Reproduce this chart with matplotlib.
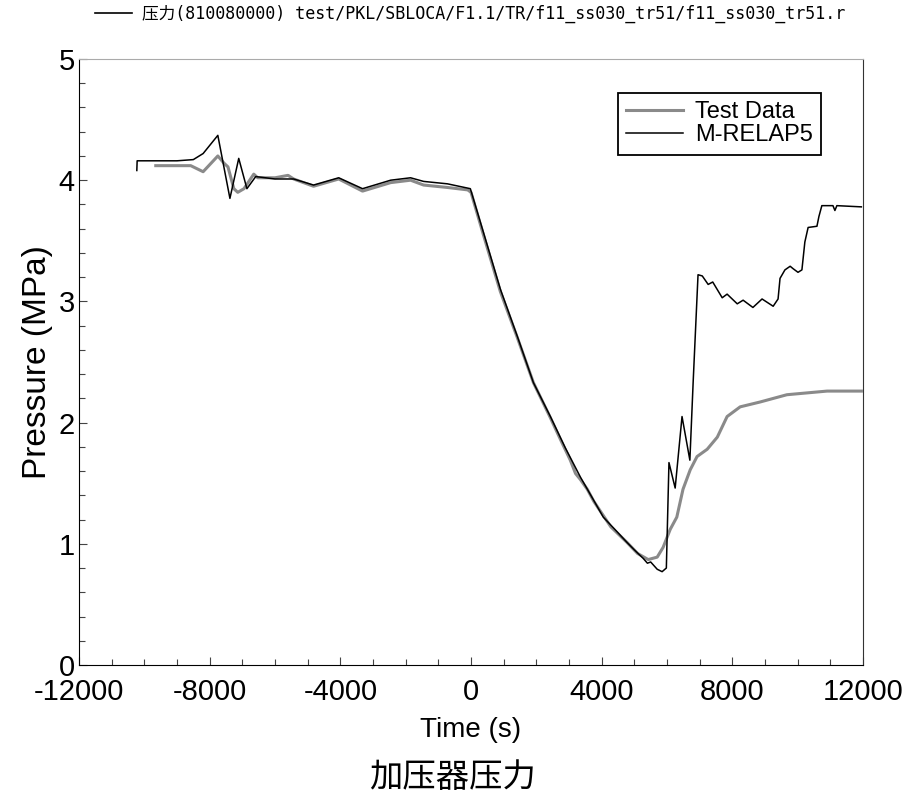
import numpy as np
import matplotlib
matplotlib.use('Agg')
import matplotlib.pyplot as plt
from matplotlib.lines import Line2D
from matplotlib.ticker import MultipleLocator

##Data
# Test Data (gray)
test_t = [-9650, -8580, -8200, -7750, -7560, -7440, -7260, -7140, -6950, -6650, -6530,
          -6000, -5600, -5430, -4820, -4050, -3320, -2460, -1850, -1450, -720, -100,
          0, 380, 900, 1420, 1910, 2430, 2740, 3040, 3200, 3350, 3560, 3760, 4280,
          4780, 5100, 5425, 5700, 5880, 6100, 6300, 6490, 6710, 6920, 7230, 7540,
          7840, 8240, 8850, 9670, 10900, 11950]
test_p = [4.12, 4.12, 4.07, 4.20, 4.14, 4.11, 3.93, 3.90, 3.93, 4.05, 4.02,
          4.02, 4.04, 4.01, 3.95, 4.01, 3.91, 3.98, 4.00, 3.96, 3.94, 3.92,
          3.90, 3.55, 3.08, 2.70, 2.33, 2.04, 1.86, 1.69, 1.58, 1.53, 1.45, 1.35, 1.14,
          1.01, 0.92, 0.87, 0.89, 0.97, 1.12, 1.22, 1.45, 1.61, 1.72, 1.78, 1.88,
          2.05, 2.13, 2.17, 2.23, 2.26, 2.26]

# M-RELAP5 (black)
relap_t = [-10230, -10220, -9000, -8500, -8200, -7750, -7380, -7110, -6860, -6590,
           -6000, -5430, -4820, -4050, -3320, -2460, -1850, -1450, -720, -20,
           380, 900, 1420, 1910, 2430, 2890, 3350, 4050, 4400, 4780, 5000, 5270,
           5400, 5500, 5700, 5850, 5980, 6060, 6250, 6460, 6700, 6800, 6950,
           7080, 7260, 7400, 7690, 7840, 8150, 8330, 8630, 8910, 9250, 9400,
           9460, 9610, 9770, 9860, 10010, 10130, 10220, 10320, 10590, 10650,
           10740, 11080, 11140, 11200, 11950]
relap_p = [4.08, 4.16, 4.16, 4.17, 4.22, 4.37, 3.85, 4.18, 3.93, 4.03,
           4.01, 4.01, 3.96, 4.02, 3.93, 4.00, 4.02, 3.99, 3.97, 3.93,
           3.57, 3.10, 2.71, 2.33, 2.05, 1.79, 1.55, 1.22, 1.12, 1.01, 0.95, 0.88,
           0.84, 0.85, 0.79, 0.77, 0.80, 1.67, 1.46, 2.05, 1.69, 2.33, 3.22,
           3.21, 3.14, 3.16, 3.03, 3.06, 2.98, 3.01, 2.95, 3.02, 2.96, 3.02,
           3.19, 3.26, 3.29, 3.27, 3.24, 3.26, 3.49, 3.61, 3.62, 3.70,
           3.79, 3.79, 3.75, 3.79, 3.78]

header = '压力(810080000) test/PKL/SBLOCA/F1.1/TR/f11_ss030_tr51/f11_ss030_tr51.r'
title = '加压器压力'

##Figure
plt.rcParams['font.family'] = ['Liberation Sans', 'Noto Sans CJK SC']
plt.rcParams['axes.unicode_minus'] = False
fig = plt.figure(figsize=(9.07, 8.01), dpi=100)
ax = fig.add_axes([79/907, 1-665/801, 784/907, 606/801])

ax.plot(test_t, test_p, color='#8a8a8a', lw=2.2, label='Test Data')
ax.plot(relap_t, relap_p, color='black', lw=1.1, label='M-RELAP5')

ax.set_xlim(-12000, 12000)
ax.set_ylim(0, 5)
ax.xaxis.set_major_locator(MultipleLocator(4000))
ax.xaxis.set_minor_locator(MultipleLocator(1000))
ax.yaxis.set_major_locator(MultipleLocator(1))
ax.yaxis.set_minor_locator(MultipleLocator(0.2))
ax.tick_params(which='both', direction='in', top=False, right=False, color='#444444')
ax.tick_params(which='major', length=6, width=0.8, labelsize=21)
ax.tick_params(which='minor', length=4, width=0.8)
ax.tick_params(axis='x', pad=9)
ax.tick_params(axis='y', pad=3)

for s in ['left', 'bottom']:
    ax.spines[s].set_color('black')
ax.spines['top'].set_color('#aaaaaa')
ax.spines['right'].set_color('#333333')

ax.set_xlabel('Time (s)', fontsize=20, labelpad=8)
ax.set_ylabel('Pressure (MPa)', fontsize=24, labelpad=4)

leg = ax.legend(loc='upper left', bbox_to_anchor=((618-79)/784, (665-93)/606),
                borderaxespad=0, fontsize=17, fancybox=False, framealpha=1,
                edgecolor='black', handlelength=2.4, handletextpad=0.5,
                labelspacing=0.05, borderpad=0.35)
leg.get_frame().set_linewidth(1.3)

# header line with its label
fig.legend(handles=[Line2D([], [], color='black', lw=1.2)], labels=[header],
           loc='center', bbox_to_anchor=(470/907, 1-14/801), frameon=False,
           prop={'family': ['DejaVu Sans Mono', 'Noto Sans CJK SC'], 'size': 12},
           handlelength=2.2, handletextpad=0.6)

fig.text(453/907, 1-778/801, title, ha='center', va='center', fontsize=24,
         family=['Noto Sans CJK SC', 'DejaVu Sans'])

fig.savefig('out.png', dpi=100)
